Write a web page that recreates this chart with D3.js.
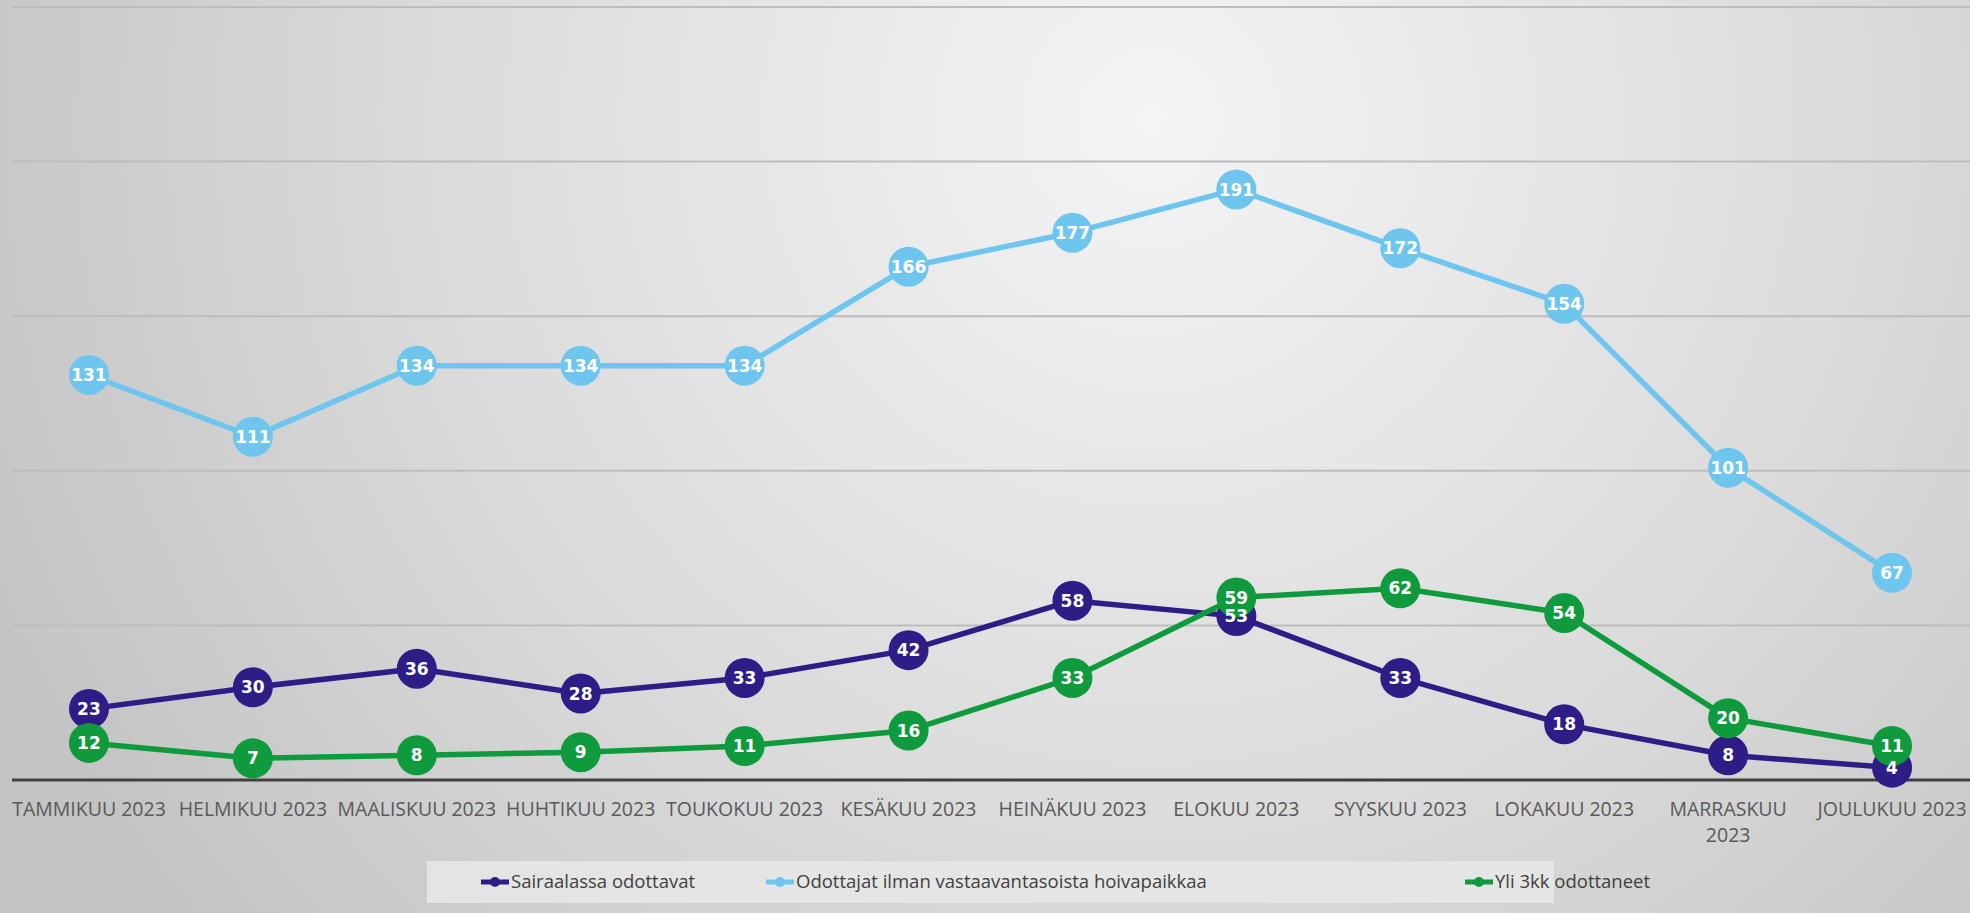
<!DOCTYPE html>
<html>
<head>
<meta charset="utf-8">
<script src="https://cdn.jsdelivr.net/npm/d3@7"></script>
<style>
  html, body { margin: 0; padding: 0; background: #d6d6d6; }
  svg { display: block; }
</style>
</head>
<body>
<svg id="chart"></svg>
<script>
// months on the x axis
const months = ["TAMMIKUU 2023", "HELMIKUU 2023", "MAALISKUU 2023", "HUHTIKUU 2023",
  "TOUKOKUU 2023", "KESÄKUU 2023", "HEINÄKUU 2023", "ELOKUU 2023",
  "SYYSKUU 2023", "LOKAKUU 2023", "MARRASKUU 2023", "JOULUKUU 2023"];

// series values
const sairaalassa = [23, 30, 36, 28, 33, 42, 58, 53, 33, 18, 8, 4];
const odottajat = [131, 111, 134, 134, 134, 166, 177, 191, 172, 154, 101, 67];
const yli3kk = [12, 7, 8, 9, 11, 16, 33, 59, 62, 54, 20, 11];

const seriesNames = ["Sairaalassa odottavat", "Odottajat ilman vastaavantasoista hoivapaikkaa", "Yli 3kk odottaneet"];
const yTicks = [0, 50, 100, 150, 200, 250];

const series = [
  { name: seriesNames[0], values: sairaalassa, color: "#2e1d86" },
  { name: seriesNames[1], values: odottajat, color: "#6ec6ef" },
  { name: seriesNames[2], values: yli3kk, color: "#0f9a3d" }
];

const width = 1970, height = 913;
const marginTop = 7, marginBottom = 133, marginLeft = 7, marginRight = -4;

const svg = d3.select("#chart")
    .attr("width", width)
    .attr("height", height)
    .attr("viewBox", [0, 0, width, height]);

// soft grey slide background
const defs = svg.append("defs");
const grad = defs.append("radialGradient")
    .attr("id", "bg")
    .attr("gradientUnits", "userSpaceOnUse")
    .attr("cx", 1150).attr("cy", 120).attr("r", 1250);
grad.append("stop").attr("offset", "0%").attr("stop-color", "#f4f4f4");
grad.append("stop").attr("offset", "55%").attr("stop-color", "#dcdcdc");
grad.append("stop").attr("offset", "100%").attr("stop-color", "#c4c4c4");
svg.append("rect")
    .attr("width", width).attr("height", height)
    .attr("fill", "url(#bg)");

const x = d3.scaleBand(months, [marginLeft, width - marginRight]);
const y = d3.scaleLinear([0, 250], [height - marginBottom, marginTop]);
const cx = d => x(d) + x.bandwidth() / 2;

// gridlines
svg.append("g")
  .selectAll("line")
  .data(yTicks.filter(d => d > 0))
  .join("line")
    .attr("x1", 12).attr("x2", width)
    .attr("y1", d => y(d)).attr("y2", d => y(d))
    .attr("stroke", "#bdbdbd")
    .attr("stroke-width", 2);

// x axis
const xAxis = d3.axisBottom(x).tickSize(0).tickPadding(0);
const xGroup = svg.append("g")
    .attr("transform", `translate(0,${y(0)})`)
    .call(xAxis);
xGroup.select(".domain").remove();
xGroup.append("line")
    .attr("x1", 12).attr("x2", width)
    .attr("stroke", "#404040")
    .attr("stroke-width", 3);
xGroup.selectAll(".tick text")
    .attr("y", 36)
    .attr("dy", 0)
    .attr("fill", "#595959")
    .style("font-family", "'Open Sans', sans-serif")
    .style("font-size", "19.5px")
    .each(function(d) {
      // wrap labels that do not fit their band
      const t = d3.select(this);
      if (this.getComputedTextLength() > x.bandwidth() - 2) {
        const parts = d.split(" ");
        t.text(null);
        t.append("tspan").attr("x", 0).attr("y", 36).text(parts[0]);
        t.append("tspan").attr("x", 0).attr("y", 62).text(parts.slice(1).join(" "));
      }
    });

// lines and markers, series by series
const line = d3.line()
    .x((d, i) => cx(months[i]))
    .y(d => y(d));

const r = 20;
series.forEach(s => {
  const g = svg.append("g");
  g.append("path")
      .attr("d", line(s.values))
      .attr("fill", "none")
      .attr("stroke", s.color)
      .attr("stroke-width", 5.5)
      .attr("stroke-linejoin", "round");
  g.selectAll("circle")
    .data(s.values)
    .join("circle")
      .attr("cx", (d, i) => cx(months[i]))
      .attr("cy", d => y(d))
      .attr("r", r)
      .attr("fill", s.color);
});

// data labels on top of everything
series.forEach(s => {
  svg.append("g")
      .attr("fill", "#ffffff")
      .attr("text-anchor", "middle")
      .style("font-family", "'DejaVu Sans', sans-serif")
      .style("font-weight", "bold")
      .style("font-size", "17px")
    .selectAll("text")
    .data(s.values)
    .join("text")
      .attr("x", (d, i) => cx(months[i]))
      .attr("y", d => y(d))
      .attr("dy", "0.36em")
      .text(d => d);
});

// legend
const legendX = [481, 766, 1465];
const legendY = 882;
svg.append("rect")
    .attr("x", 427).attr("y", 861)
    .attr("width", 1127).attr("height", 42)
    .attr("fill", "#e8e8e8")
    .attr("opacity", 0.85);

const legend = svg.append("g")
  .selectAll("g")
  .data(series)
  .join("g")
    .attr("transform", (d, i) => `translate(${legendX[i]},${legendY})`);
legend.append("line")
    .attr("x1", 0).attr("x2", 28)
    .attr("stroke", d => d.color)
    .attr("stroke-width", 5);
legend.append("circle")
    .attr("cx", 14).attr("r", 5)
    .attr("fill", d => d.color);
legend.append("text")
    .attr("x", 30)
    .attr("dy", "0.35em")
    .attr("fill", "#404040")
    .style("font-family", "'Open Sans', sans-serif")
    .style("font-size", "18.5px")
    .text(d => d.name);
</script>
</body>
</html>
